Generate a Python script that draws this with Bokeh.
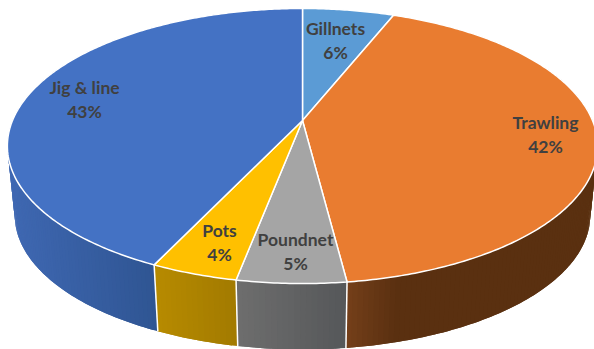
import numpy as np
from bokeh.plotting import figure
from bokeh.models import Range1d
from bokeh.core.properties import value
from bokeh.embed import file_html
from bokeh.resources import INLINE

categories = ["Gillnets", "Trawling", "Poundnet", "Pots", "Jig & line"]
percent = [6, 42, 5, 4, 43]
top_colors = ["#5B9BD5", "#E97C30", "#A5A5A5", "#FFC000", "#4472C4"]
# wall shade at the slice's left and right ends
wall_left = ["#3F6B9E", "#743F19", "#6E6E6E", "#B78B00", "#3F68B2"]
wall_right = ["#3F6B9E", "#5A3010", "#555759", "#A27A00", "#2F5593"]
label_x = [335, 545, 295, 219, 84]
label_y = [28, 122, 239, 230, 87]
LINE_GAP = 24

# perspective projection of the pie's circular top and bottom faces
CX, CY, F, G, K = 302.0, 120.0, 290.0, 132.8, 0.1855
DEPTH, SHRINK = 70.0, 0.975


def project(angle, bottom=False):
    X, Y = np.sin(angle), np.cos(angle)
    den = 1 + K * Y
    if bottom:
        return CX + SHRINK * F * X / den, CY + DEPTH - SHRINK * G * Y / den
    return CX + F * X / den, CY - G * Y / den


def hex_rgb(c):
    return np.array([int(c[i:i + 2], 16) for i in (1, 3, 5)], dtype=float)


def mix(a, b, t):
    v = hex_rgb(a) * (1 - t) + hex_rgb(b) * t
    return "#%02x%02x%02x" % tuple(int(round(u)) for u in v)


p = figure(width=594, height=349, output_backend="svg", toolbar_location=None,
           x_range=Range1d(0, 594), y_range=Range1d(349, 0),
           min_border=0, outline_line_color=None, background_fill_color="white")
p.axis.visible = False
p.grid.visible = False

edges = np.cumsum([0] + percent) / sum(percent) * 2 * np.pi

# side walls: overlapping strips so no seam shows between shades
for i in range(len(percent)):
    a = np.linspace(edges[i], edges[i + 1], max(3, int(percent[i] * 4)))
    a = a[np.cos(a) < 0.45]
    if len(a) < 2:
        continue
    tx, ty = project(a)
    bx, by = project(a, True)
    xmin, xmax = bx.min(), bx.max()
    wx, wy, wc = [], [], []
    for j in range(len(a) - 1):
        t = ((bx[j] + bx[j + 1]) / 2 - xmin) / (xmax - xmin)
        if categories[i] == "Trawling":
            t = min(1.0, t * 5)
        k = min(j + 2, len(a) - 1)
        wx.append([tx[j], tx[j + 1], tx[k], bx[k], bx[j + 1], bx[j]])
        wy.append([ty[j], ty[j + 1], ty[k], by[k], by[j + 1], by[j]])
        wc.append(mix(wall_left[i], wall_right[i], t))
    p.patches(wx, wy, fill_color=wc, line_color=None)

edge_x, edge_y = [], []
for ang in edges:
    if np.cos(ang) < -0.5:
        x0, y0 = project(ang)
        x1, y1 = project(ang, True)
        edge_x.append([x0, x1])
        edge_y.append([y0, y1])
p.multi_line(edge_x, edge_y, line_color="white", line_width=1.5)

# top face
xs, ys = [], []
for i in range(len(percent)):
    a = np.linspace(edges[i], edges[i + 1], max(6, int(percent[i] * 6)))
    x, y = project(a)
    xs.append([CX] + list(x))
    ys.append([CY] + list(y))
p.patches(xs, ys, fill_color=top_colors, line_color="white", line_width=1.5, line_join="round")

# labels
for name, pct, lx, ly in zip(categories, percent, label_x, label_y):
    p.text([lx, lx], [ly - 0.5, ly + LINE_GAP - 0.5], text=[name, f"{pct}%"],
           text_font=value("Lato"), text_font_style="bold", text_font_size="17.5px",
           text_color="#404040", text_align="center", text_baseline="middle")

open("out.html", "w").write(file_html(p, INLINE))
